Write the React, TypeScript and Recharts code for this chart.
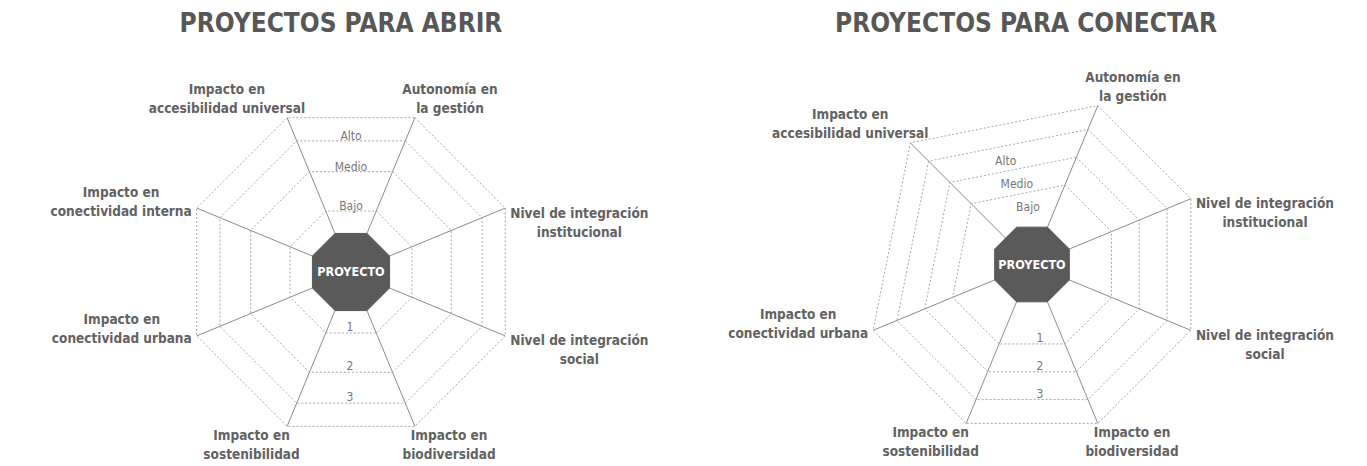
import React from 'react';
import { RadarChart, Radar, PolarGrid, PolarAngleAxis, PolarRadiusAxis } from 'recharts';

const W = 1351;
const H = 458;
const FONT = "'Liberation Sans Narrow', 'DejaVu Sans Condensed', 'Roboto', sans-serif";

// --- datos ---
const titles = ['PROYECTOS PARA ABRIR', 'PROYECTOS PARA CONECTAR'];
const centerLabel = 'PROYECTO';

// ejes en sentido horario, empezando por "Autonomía"
const abrirAxes = [
  'Autonomía en\nla gestión',
  'Nivel de integración\ninstitucional',
  'Nivel de integración\nsocial',
  'Impacto en\nbiodiversidad',
  'Impacto en\nsostenibilidad',
  'Impacto en\nconectividad urbana',
  'Impacto en\nconectividad interna',
  'Impacto en\naccesibilidad universal',
];

// 16 posiciones de 22.5°, las vacías no llevan eje
const conectarAxes = [
  'Autonomía en\nla gestión', '',
  'Nivel de integración\ninstitucional', '',
  'Nivel de integración\nsocial', '',
  'Impacto en\nbiodiversidad', '',
  'Impacto en\nsostenibilidad', '',
  'Impacto en\nconectividad urbana', '',
  '', 'Impacto en\naccesibilidad universal', '', '',
];

const nivelLabels = ['Bajo', 'Medio', 'Alto'];
const escalaLabels = ['1', '2', '3'];

// anillos (escala 0-10)
const abrirRings = [3.95, 6.5, 8.5, 10];
const conectarRings = [5, 6.75, 8.5, 10];

// octógono central
const coreSlots = ['a', 'b', 'c', 'd', 'e', 'f', 'g', 'h'];
const abrirCore = [2.5, 2.5, 2.5, 2.5, 2.5, 2.5, 2.5, 2.5];
const conectarCore = [2.35, 2.35, 2.35, 2.35, 2.35, 2.35, 2.35, 2.35];

const START = 67.5;
const RAD = Math.PI / 180;

const norm = (a: number) => {
  let x = ((a % 360) + 360) % 360;
  if (x > 180) x -= 360;
  return x;
};
const pt = (cx: number, cy: number, r: number, a: number) => [cx + r * Math.cos(a * RAD), cy - r * Math.sin(a * RAD)];

let ctx: CanvasRenderingContext2D | null = null;
function textWidth(s: string, font: string) {
  if (!ctx) ctx = document.createElement('canvas').getContext('2d');
  if (!ctx) return s.length * 7;
  ctx.font = font;
  return ctx.measureText(s).width;
}

function edgeY(cx: number, cy: number, r: number, a1: number, a2: number, x: number) {
  const [x1, y1] = pt(cx, cy, r, a1);
  const [x2, y2] = pt(cx, cy, r, a2);
  const t = (x - x1) / (x2 - x1);
  return y1 + t * (y2 - y1);
}

interface PanelProps {
  cx: number;
  cy: number;
  outer: number;
  axes: string[];
  rings: number[];
  core: number[];
  topShift: number;
  topSlide: number;
  bottomDx: number;
}

function Panel({ cx, cy, outer, axes, rings, core, topShift, topSlide, bottomDx }: PanelProps) {
  const step = 360 / axes.length;
  const data = axes.map((label, i) => ({ key: `eje${i}`, label }));
  const labelOf: Record<string, string> = {};
  data.forEach((d) => (labelOf[d.key] = d.label));
  const angles = axes
    .map((label, i) => ({ label, a: START - i * step }))
    .filter((d) => d.label !== '')
    .map((d) => d.a);
  const nAngles = angles.map(norm);
  const topA1 = Math.min(...nAngles.filter((a) => a > 90));
  const topA2 = Math.max(...nAngles.filter((a) => a < 90 && a > 0));
  const botA1 = Math.max(...nAngles.filter((a) => a < -90));
  const botA2 = Math.min(...nAngles.filter((a) => a > -90 && a < 0));
  const coreData = coreSlots.map((s, i) => ({ s, core: core[i] }));

  const labelSize = 13.5;
  const labelFont = `bold ${labelSize}px ${FONT}`;

  const AxisTick = (props: any) => {
    const { payload, index } = props;
    const label: string = labelOf[payload?.value] ?? '';
    if (!label) return <g />;
    const ang = typeof payload?.coordinate === 'number' ? payload.coordinate : START - index * step;
    const c = Math.cos(ang * RAD);
    const s = Math.sin(ang * RAD);
    const [ex, ey] = pt(cx, cy, outer, ang);
    const lines = label.split('\n');
    const halfW = Math.max(...lines.map((l) => textWidth(l, labelFont))) / 2;
    const dir = Math.abs(c) < 0.05 ? 0 : Math.sign(c);
    let mx: number;
    let my: number;
    if (Math.abs(s) > 0.6) {
      mx = ex + dir * (halfW * 0.82 - 4);
      my = s > 0 ? ey - 19 : ey + 18;
    } else {
      mx = ex + dir * (halfW + 5);
      my = c > 0 ? ey + 14 : ey - 7;
    }
    const lh = 19;
    const y0 = my - ((lines.length - 1) * lh) / 2;
    return (
      <text
        x={mx}
        y={y0}
        textAnchor="middle"
        dominantBaseline="central"
        fontFamily={FONT}
        fontWeight="bold"
        fontSize={labelSize}
        fill="#626262"
      >
        {lines.map((l, i) => (
          <tspan key={i} x={mx} y={y0 + i * lh}>
            {l}
          </tspan>
        ))}
      </text>
    );
  };

  const radiusOf = (props: any) =>
    typeof props?.payload?.coordinate === 'number' ? props.payload.coordinate : (props.payload.value / 10) * outer;

  const TopTick = (props: any) => {
    const lab = nivelLabels[props.index];
    if (!lab) return <g />;
    const r = radiusOf(props);
    const x = cx - topSlide * (r - 75);
    const y = edgeY(cx, cy, r, topA1, topA2, x) + topShift;
    return (
      <text x={x} y={y} textAnchor="middle" dominantBaseline="central" fontFamily={FONT} fontSize={12} fill="#777">
        {lab}
      </text>
    );
  };

  const BottomTick = (props: any) => {
    const lab = escalaLabels[props.index];
    if (!lab) return <g />;
    const r = radiusOf(props);
    const x = cx + bottomDx;
    const y = edgeY(cx, cy, r, botA1, botA2, x) - 6;
    return (
      <text x={x} y={y} textAnchor="middle" dominantBaseline="central" fontFamily={FONT} fontSize={12} fill="#777">
        {lab}
      </text>
    );
  };

  return (
    <>
      <div style={{ position: 'absolute', left: 0, top: 0 }}>
        <RadarChart
          width={W}
          height={H}
          cx={cx}
          cy={cy}
          outerRadius={outer}
          startAngle={START}
          endAngle={START - 360}
          data={data}
        >
          <PolarGrid gridType="polygon" polarAngles={angles} polarRadius={[]} stroke="#8c8c8c" strokeWidth={1} />
          <PolarGrid
            gridType="polygon"
            polarAngles={angles}
            radialLines={false}
            stroke="#a8a8a8"
            strokeWidth={1}
            strokeDasharray="2 2"
          />
          <PolarAngleAxis dataKey="key" tick={AxisTick} axisLine={false} tickLine={false} />
          <PolarRadiusAxis
            angle={90}
            domain={[0, 10]}
            allowDataOverflow
            ticks={rings as any}
            tick={TopTick}
            axisLine={false}
            tickLine={false}
          />
          <PolarRadiusAxis
            radiusAxisId="b"
            angle={-90}
            domain={[0, 10]}
            allowDataOverflow
            ticks={rings as any}
            tick={BottomTick}
            axisLine={false}
            tickLine={false}
          />
        </RadarChart>
      </div>
      <div style={{ position: 'absolute', left: 0, top: 0 }}>
        <RadarChart
          width={W}
          height={H}
          cx={cx}
          cy={cy}
          outerRadius={outer}
          startAngle={START}
          endAngle={START - 360}
          data={coreData}
        >
          <PolarAngleAxis dataKey="s" tick={false} axisLine={false} tickLine={false} />
          <PolarRadiusAxis domain={[0, 10]} allowDataOverflow tick={false} axisLine={false} tickLine={false} />
          <Radar dataKey="core" stroke="#5a5a5a" fill="#5a5a5a" fillOpacity={1} isAnimationActive={false} />
        </RadarChart>
      </div>
      <div
        style={{
          position: 'absolute',
          left: cx - 50,
          top: cy - 10,
          width: 100,
          height: 20,
          lineHeight: '20px',
          textAlign: 'center',
          color: '#fff',
          fontFamily: FONT,
          fontWeight: 'bold',
          fontSize: 12.5,
        }}
      >
        {centerLabel}
      </div>
    </>
  );
}

export default function App() {
  const titleStyle: React.CSSProperties = {
    position: 'absolute',
    top: -5,
    width: 500,
    textAlign: 'center',
    fontFamily: FONT,
    fontWeight: 'bold',
    fontSize: 26,
    lineHeight: '40px',
    color: '#575757',
  };
  return (
    <div style={{ position: 'relative', width: W, height: H, background: '#fff' }}>
      <div style={{ ...titleStyle, left: 333 - 250 }}>{titles[0]}</div>
      <div style={{ ...titleStyle, left: 1018 - 250 }}>{titles[1]}</div>
      <Panel
        cx={343}
        cy={264}
        outer={167}
        axes={abrirAxes}
        rings={abrirRings}
        core={abrirCore}
        topShift={-5}
        topSlide={0}
        bottomDx={-1}
      />
      <Panel
        cx={1024}
        cy={256.5}
        outer={172}
        axes={conectarAxes}
        rings={conectarRings}
        core={conectarCore}
        topShift={15}
        topSlide={0.37}
        bottomDx={8}
      />
    </div>
  );
}
